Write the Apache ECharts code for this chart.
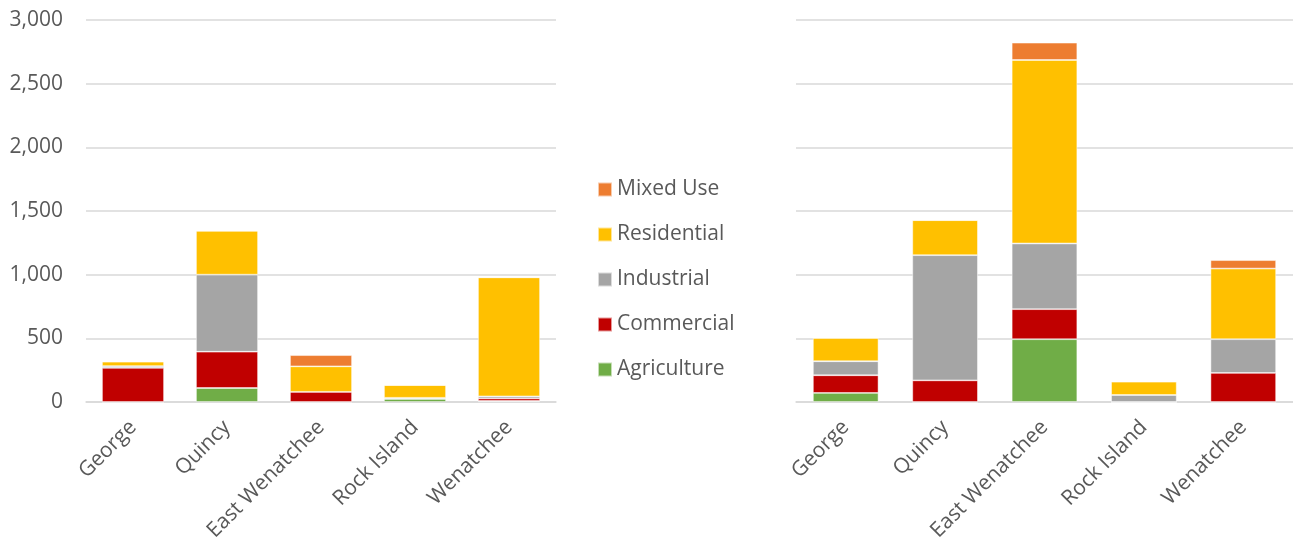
<!DOCTYPE html>
<html>
<head>
<meta charset="utf-8">
<script src="https://cdn.jsdelivr.net/npm/echarts@6/dist/echarts.min.js"></script>
<style>html,body{margin:0;padding:0;background:#fff;}#c{width:1293px;height:546px;}</style>
</head>
<body>
<div id="c"></div>
<script>
const categories = ['George', 'Quincy', 'East Wenatchee', 'Rock Island', 'Wenatchee'];
const seriesNames = ['Agriculture', 'Commercial', 'Industrial', 'Residential', 'Mixed Use'];
const colors = ['#70AD47', '#C00000', '#A5A5A5', '#FFC000', '#ED7D31'];
const yTicks = [0, 500, 1000, 1500, 2000, 2500, 3000];

// Left chart
const leftAgriculture = [0, 110, 0, 25, 8];
const leftCommercial  = [268, 285, 80, 0, 20];
const leftIndustrial  = [14, 605, 0, 8, 16];
const leftResidential = [35, 345, 200, 100, 935];
const leftMixedUse    = [0, 0, 88, 0, 0];

// Right chart
const rightAgriculture = [71, 0, 493, 0, 0];
const rightCommercial  = [139, 170, 236, 0, 228];
const rightIndustrial  = [110, 983, 516, 55, 265];
const rightResidential = [183, 275, 1441, 105, 555];
const rightMixedUse    = [0, 0, 136, 0, 66];

const leftData = [leftAgriculture, leftCommercial, leftIndustrial, leftResidential, leftMixedUse];
const rightData = [rightAgriculture, rightCommercial, rightIndustrial, rightResidential, rightMixedUse];

const txt = '#595959';
const gridCol = '#d9d9d9';
const font = '"Open Sans", "Noto Sans", sans-serif';

function xAxis(gi) {
  return {
    type: 'category', gridIndex: gi, data: categories,
    axisTick: { show: false },
    axisLine: { lineStyle: { color: gridCol, width: 1.5 } },
    axisLabel: { rotate: 45, color: txt, fontSize: 21, fontFamily: font, margin: 22, interval: 0 }
  };
}
function yAxis(gi, showLabels) {
  return {
    type: 'value', gridIndex: gi, min: yTicks[0], max: yTicks[yTicks.length - 1], interval: 500,
    axisLine: { show: false }, axisTick: { show: false },
    splitLine: { lineStyle: { color: gridCol, width: 1.5 } },
    axisLabel: {
      show: showLabels, color: txt, fontSize: 21, fontFamily: font, margin: 23,
      formatter: v => v.toLocaleString('en-US')
    }
  };
}

const series = [];
[leftData, rightData].forEach((data, gi) => {
  seriesNames.forEach((name, i) => {
    series.push({
      name: name, type: 'bar', stack: 'g' + gi,
      xAxisIndex: gi, yAxisIndex: gi,
      data: data[i], barWidth: '66%',
      itemStyle: { color: colors[i], borderColor: 'rgba(255,255,255,0.6)', borderWidth: 0.8 },
      emphasis: { disabled: true }
    });
  });
});

const chart = echarts.init(document.getElementById('c'), null, { renderer: 'canvas' });
chart.setOption({
  animation: false,
  color: colors,
  grid: [
    { left: 86, top: 20, width: 470, height: 382 },
    { left: 796, top: 20, width: 498, height: 382 }
  ],
  legend: {
    orient: 'vertical', left: 597, top: 179, padding: 0,
    data: ['Mixed Use', 'Residential', 'Industrial', 'Commercial', 'Agriculture'],
    itemWidth: 14, itemHeight: 14, itemGap: 24,
    icon: 'rect',
    textStyle: { color: txt, fontSize: 21, fontFamily: font, padding: [0, 0, 0, 0] }
  },
  xAxis: [xAxis(0), xAxis(1)],
  yAxis: [yAxis(0, true), yAxis(1, false)],
  series: series
});
</script>
</body>
</html>
